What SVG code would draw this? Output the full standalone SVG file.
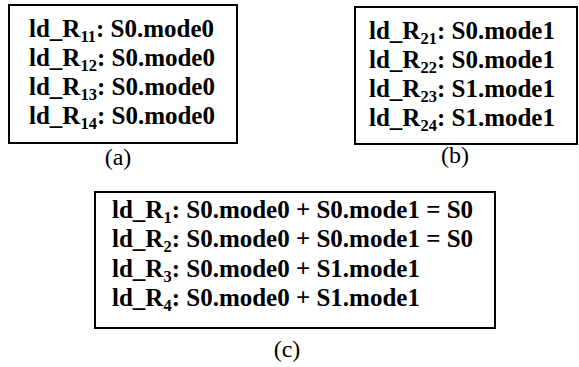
<svg xmlns="http://www.w3.org/2000/svg" width="579" height="367" viewBox="0 0 579 367">
<style>
.box{fill:#fff;stroke:#000;stroke-width:2}
.t{font-family:'Liberation Serif','Times New Roman',serif;font-weight:bold;font-size:25px;fill:#000}
.s{font-size:16.5px}
.cap{font-family:'Liberation Serif','Times New Roman',serif;font-size:24px;fill:#000;text-anchor:middle}
</style>
<rect width="579" height="367" fill="#fff"/>
<g id="boxA">
<rect class="box" x="9" y="5" width="228" height="138"/>
<text class="t" x="29" y="37">ld_R<tspan class="s" dy="5">11</tspan><tspan dy="-5">: S0.mode0</tspan></text>
<text class="t" x="29" y="66">ld_R<tspan class="s" dy="5">12</tspan><tspan dy="-5">: S0.mode0</tspan></text>
<text class="t" x="29" y="95">ld_R<tspan class="s" dy="5">13</tspan><tspan dy="-5">: S0.mode0</tspan></text>
<text class="t" x="29" y="124">ld_R<tspan class="s" dy="5">14</tspan><tspan dy="-5">: S0.mode0</tspan></text>
<text class="cap" x="118" y="165">(a)</text>
</g>
<g id="boxB">
<rect class="box" x="355" y="7" width="222" height="137"/>
<text class="t" x="369" y="39">ld_R<tspan class="s" dy="5">21</tspan><tspan dy="-5">: S0.mode1</tspan></text>
<text class="t" x="369" y="68">ld_R<tspan class="s" dy="5">22</tspan><tspan dy="-5">: S0.mode1</tspan></text>
<text class="t" x="369" y="97">ld_R<tspan class="s" dy="5">23</tspan><tspan dy="-5">: S1.mode1</tspan></text>
<text class="t" x="369" y="126">ld_R<tspan class="s" dy="5">24</tspan><tspan dy="-5">: S1.mode1</tspan></text>
<text class="cap" x="455" y="163">(b)</text>
</g>
<g id="boxC">
<rect class="box" x="95" y="192" width="400" height="136"/>
<text class="t" x="112" y="218">ld_R<tspan class="s" dy="5">1</tspan><tspan dy="-5">: S0.mode0 + S0.mode1 = S0</tspan></text>
<text class="t" x="112" y="247">ld_R<tspan class="s" dy="5">2</tspan><tspan dy="-5">: S0.mode0 + S0.mode1 = S0</tspan></text>
<text class="t" x="112" y="277">ld_R<tspan class="s" dy="5">3</tspan><tspan dy="-5">: S0.mode0 + S1.mode1</tspan></text>
<text class="t" x="112" y="306">ld_R<tspan class="s" dy="5">4</tspan><tspan dy="-5">: S0.mode0 + S1.mode1</tspan></text>
<text class="cap" x="287" y="357">(c)</text>
</g>
<g id="connectors"/>
</svg>
